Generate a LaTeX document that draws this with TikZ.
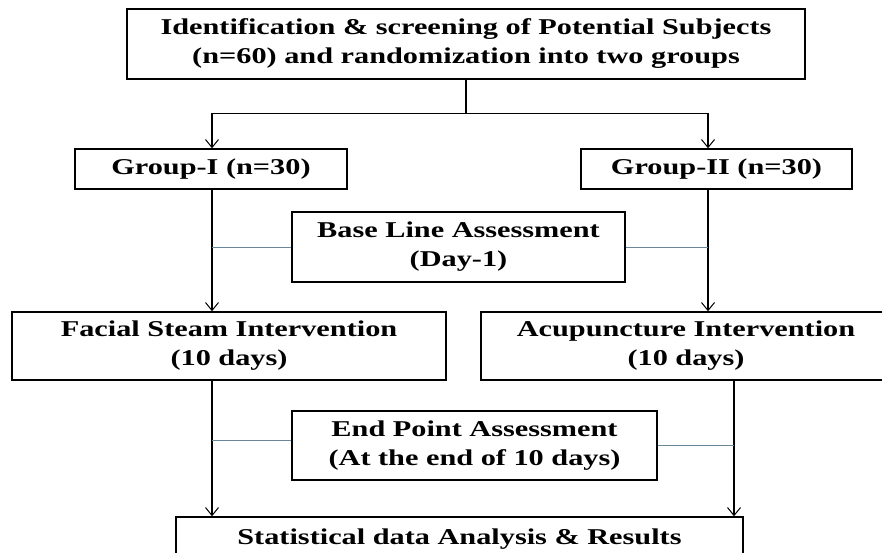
\documentclass[tikz,border=0pt]{standalone}
\usepackage{fontspec}
\setmainfont[FakeStretch=1.34]{Liberation Serif}
\usetikzlibrary{arrows.meta}
\tikzset{
  box/.style={draw, line width=1.4pt, inner sep=0pt, align=center,
    font=\fontsize{22.6}{29}\selectfont\bfseries},
  flow/.style={line width=1.2pt, -{Straight Barb[length=8pt,width=13pt,line width=1pt]}},
  tie/.style={line width=0.9pt, draw={rgb,255:red,105;green,135;blue,155}}
}
\begin{document}
\begin{tikzpicture}[x=1pt,y=-1pt]
		\useasboundingbox (0,0) rectangle (882,553);
		\fill[white] (0,0) rectangle (882,553);
		\scope
		\clip (0,0) rectangle (882,553);
		% boxes
		\node[box, minimum width=678pt, minimum height=70pt] (screen) at (466,44)
		{Identification \& screening of Potential Subjects\\(n=60) and randomization into two groups};
		\node[box, minimum width=272pt, minimum height=40pt] (g1) at (211,169) {Group-I (n=30)};
		\node[box, minimum width=271pt, minimum height=40pt] (g2) at (716.5,169) {Group-II (n=30)};
		\node[box, minimum width=333pt, minimum height=70pt] (base) at (458.5,247) {Base Line Assessment\\(Day-1)};
		\node[box, minimum width=434pt, minimum height=68pt] (fac) at (229,346) {Facial Steam Intervention\\(10 days)};
		\node[box, minimum width=410pt, minimum height=68pt] (acu) at (686,346) {Acupuncture Intervention\\(10 days)};
		\node[box, minimum width=365pt, minimum height=69pt] (endpt) at (474.5,445.5) {End Point Assessment\\(At the end of 10 days)};
		\node[box, minimum width=567pt, minimum height=44pt] (stat) at (459.5,539) {Statistical data Analysis \& Results};
		% arms
		\coordinate (lx) at (212,0);
		\coordinate (rx) at (708,0);
		\coordinate (rx2) at (734,0);
		\draw[line width=1.6pt] (screen.south) -- ++(0,34) coordinate (split);
		\draw[flow] (split) -| (lx |- g1.north);
		\draw[flow] (split) -| (rx |- g2.north);
		\draw[flow] (lx |- g1.south) -- (lx |- fac.north);
		\draw[flow] (rx |- g2.south) -- (rx |- acu.north);
		\draw[flow] (lx |- fac.south) -- (lx |- stat.north);
		\draw[flow] (rx2 |- acu.south) -- (rx2 |- stat.north);
		% assessments
		\draw[tie] (base.west) -- (base.west -| lx);
		\draw[tie] (base.east) -- (base.east -| rx);
		\draw[tie] ([yshift=5.5pt]endpt.west) -- ([yshift=5.5pt]endpt.west -| lx);
		\draw[tie] (endpt.east) -- (endpt.east -| rx2);
		\endscope
	\end{tikzpicture}
\end{document}
